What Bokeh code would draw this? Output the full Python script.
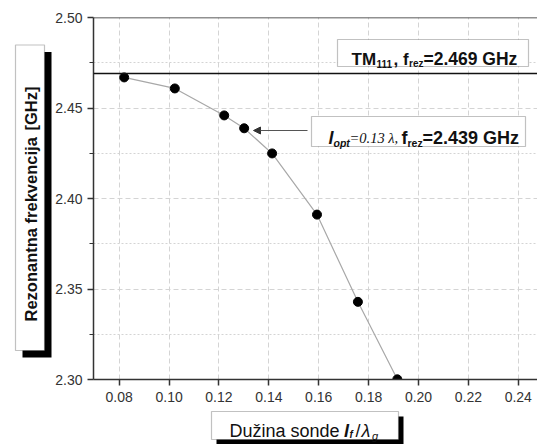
import math
from bokeh.plotting import figure
from bokeh.layouts import row, column
from bokeh.models import (Range1d, FixedTicker, PrintfTickFormatter, Span, Label,
                          BoxAnnotation, Arrow, NormalHead)
from bokeh.embed import file_html
from bokeh.resources import INLINE

# ---- data ----
probe_length = [0.082, 0.1023, 0.1221, 0.1301, 0.1413, 0.1593, 0.1757, 0.1915]
res_freq = [2.4669, 2.4608, 2.4459, 2.4388, 2.4249, 2.3911, 2.3429, 2.3001]
x_ticks = [0.08, 0.10, 0.12, 0.14, 0.16, 0.18, 0.20, 0.22, 0.24]
y_ticks = [2.30, 2.35, 2.40, 2.45, 2.50]
y_minor = [2.325, 2.375, 2.425, 2.475]
tm111_freq = 2.469

SANS = "Liberation Sans"
SERIF = "Liberation Serif"
YW = 52        # width of the y-title strip
MH = 410       # height of the main plot

p = figure(width=537 - YW, height=MH, output_backend="svg", toolbar_location=None,
           x_range=Range1d(0.0697, 0.2477), y_range=Range1d(2.30, 2.50),
           min_border_left=92 - YW, min_border_right=0, min_border_top=17,
           min_border_bottom=MH - 379)
p.outline_line_color = None
p.background_fill_color = "white"
p.border_fill_color = "white"

for ax in (p.xaxis, p.yaxis):
    ax.axis_line_color = "#333333"
    ax.axis_line_width = 1.5
    ax.major_tick_line_color = "#333333"
    ax.major_tick_line_width = 1.5
    ax.major_tick_out = 6
    ax.major_tick_in = 0
    ax.major_label_text_font = SANS
    ax.major_label_text_font_size = "14px"
    ax.major_label_text_color = "#333333"
    ax.formatter = PrintfTickFormatter(format="%.2f")
p.xaxis.ticker = FixedTicker(ticks=x_ticks)
p.yaxis.ticker = FixedTicker(ticks=y_ticks, minor_ticks=y_minor)
p.xaxis.minor_tick_line_color = None
p.yaxis.minor_tick_line_color = "#333333"
p.yaxis.minor_tick_out = 4
p.yaxis.minor_tick_in = 0
p.xaxis.major_label_standoff = 6
p.yaxis.major_label_standoff = 5

p.xgrid.grid_line_color = "#d4d4d4"
p.xgrid.grid_line_dash = "5 3"
p.ygrid.grid_line_color = "#d4d4d4"
p.ygrid.grid_line_dash = "5 3"
p.ygrid.minor_grid_line_color = "#d4d4d4"
p.ygrid.minor_grid_line_dash = "2 2"

p.add_layout(Span(location=2.50, dimension="width", line_color="#222222", line_width=1.5))
p.add_layout(Span(location=tm111_freq, dimension="width", line_color="#111111", line_width=1.5))

p.line(probe_length, res_freq, line_color="#a8a8a8", line_width=1.2)
p.scatter(probe_length, res_freq, size=9, fill_color="black", line_color="black")


def box(fig, l, r, t, b, shadow=None):
    if shadow:
        fig.add_layout(BoxAnnotation(left=l + shadow, right=r + shadow, top=t + shadow,
                                     bottom=b + shadow, left_units="canvas", right_units="canvas",
                                     top_units="canvas", bottom_units="canvas",
                                     fill_color="black", fill_alpha=1, line_color=None,
                                     level="overlay"))
    fig.add_layout(BoxAnnotation(left=l, right=r, top=t, bottom=b, left_units="canvas",
                                 right_units="canvas", top_units="canvas", bottom_units="canvas",
                                 fill_color="white", fill_alpha=1, line_color="#333333",
                                 line_width=1.2, level="overlay"))


def txt(fig, x, y, s, size, style="normal", font=SANS, align="left", baseline="alphabetic", angle=0):
    fig.add_layout(Label(x=x, y=y, x_units="canvas", y_units="canvas", text=s,
                         text_font=font, text_font_size=f"{size}px", text_font_style=style,
                         text_color="#111111", text_align=align, text_baseline=baseline,
                         angle=angle, level="overlay"))


ox = YW  # main plot canvas offset
# TM111 box
box(p, 337 - ox, 528 - ox, 39, 66)
txt(p, 351 - ox, 58.5, "TM", 17, "bold")
txt(p, 376 - ox, 63, "111", 10, "bold")
txt(p, 393 - ox, 58.5, ", f", 17, "bold")
txt(p, 408.5 - ox, 63, "rez", 10, "bold")
txt(p, 423 - ox, 58.5, "=2.469 GHz", 17.5, "bold")

# l_opt box
box(p, 311 - ox, 525 - ox, 116, 146)
txt(p, 328 - ox, 137, "l", 18, "bold italic")
txt(p, 333 - ox, 142, "opt", 10.5, "bold italic")
txt(p, 349 - ox, 137, "=0.13 λ,", 14.5, "italic", font=SERIF)
txt(p, 401 - ox, 137, "f", 18, "bold")
txt(p, 407 - ox, 142, "rez", 10.5, "bold")
txt(p, 422 - ox, 137, "=2.439 GHz", 18, "bold")
p.add_layout(Arrow(end=NormalHead(size=7, fill_color="#333333", line_color="#333333"),
                   x_start=307 - ox, y_start=130, x_end=253 - ox, y_end=130,
                   start_units="canvas", end_units="canvas",
                   line_color="#555555", line_width=1.2, level="overlay"))


def strip(w, h):
    f = figure(width=w, height=h, output_backend="svg", toolbar_location=None,
               x_axis_location=None, y_axis_location=None, min_border=0,
               x_range=Range1d(0, 1), y_range=Range1d(0, 1))
    f.outline_line_color = None
    f.grid.visible = False
    f.background_fill_color = "white"
    f.border_fill_color = "white"
    return f


# y-axis title strip
yf = strip(YW, 444)
box(yf, 15, 44, 44.5, 350, shadow=7)
txt(yf, 30, 321, "Rezonantna frekvencija", 16.5, "bold", baseline="middle", angle=math.pi / 2)
txt(yf, 30, 86, "[GHz]", 16.5, "bold", align="right", baseline="middle", angle=math.pi / 2)

# x-axis title strip
xf = strip(537 - YW, 444 - MH)
oy = MH
box(xf, 211 - ox, 398 - ox, 411 - oy, 439 - oy, shadow=5)
txt(xf, 229 - ox, 430 - oy, "Dužina sonde", 18)
txt(xf, 343.5 - ox, 430 - oy, "l", 18, "bold italic")
txt(xf, 349 - ox, 434 - oy, "f", 10, "bold italic")
txt(xf, 355 - ox, 430 - oy, "/", 18)
txt(xf, 361 - ox, 430 - oy, "λ", 18, "italic")
txt(xf, 371.5 - ox, 435 - oy, "g", 11, "italic")

layout = row(yf, column(p, xf, spacing=0), spacing=0)
open("out.html", "w").write(file_html(layout, INLINE))
